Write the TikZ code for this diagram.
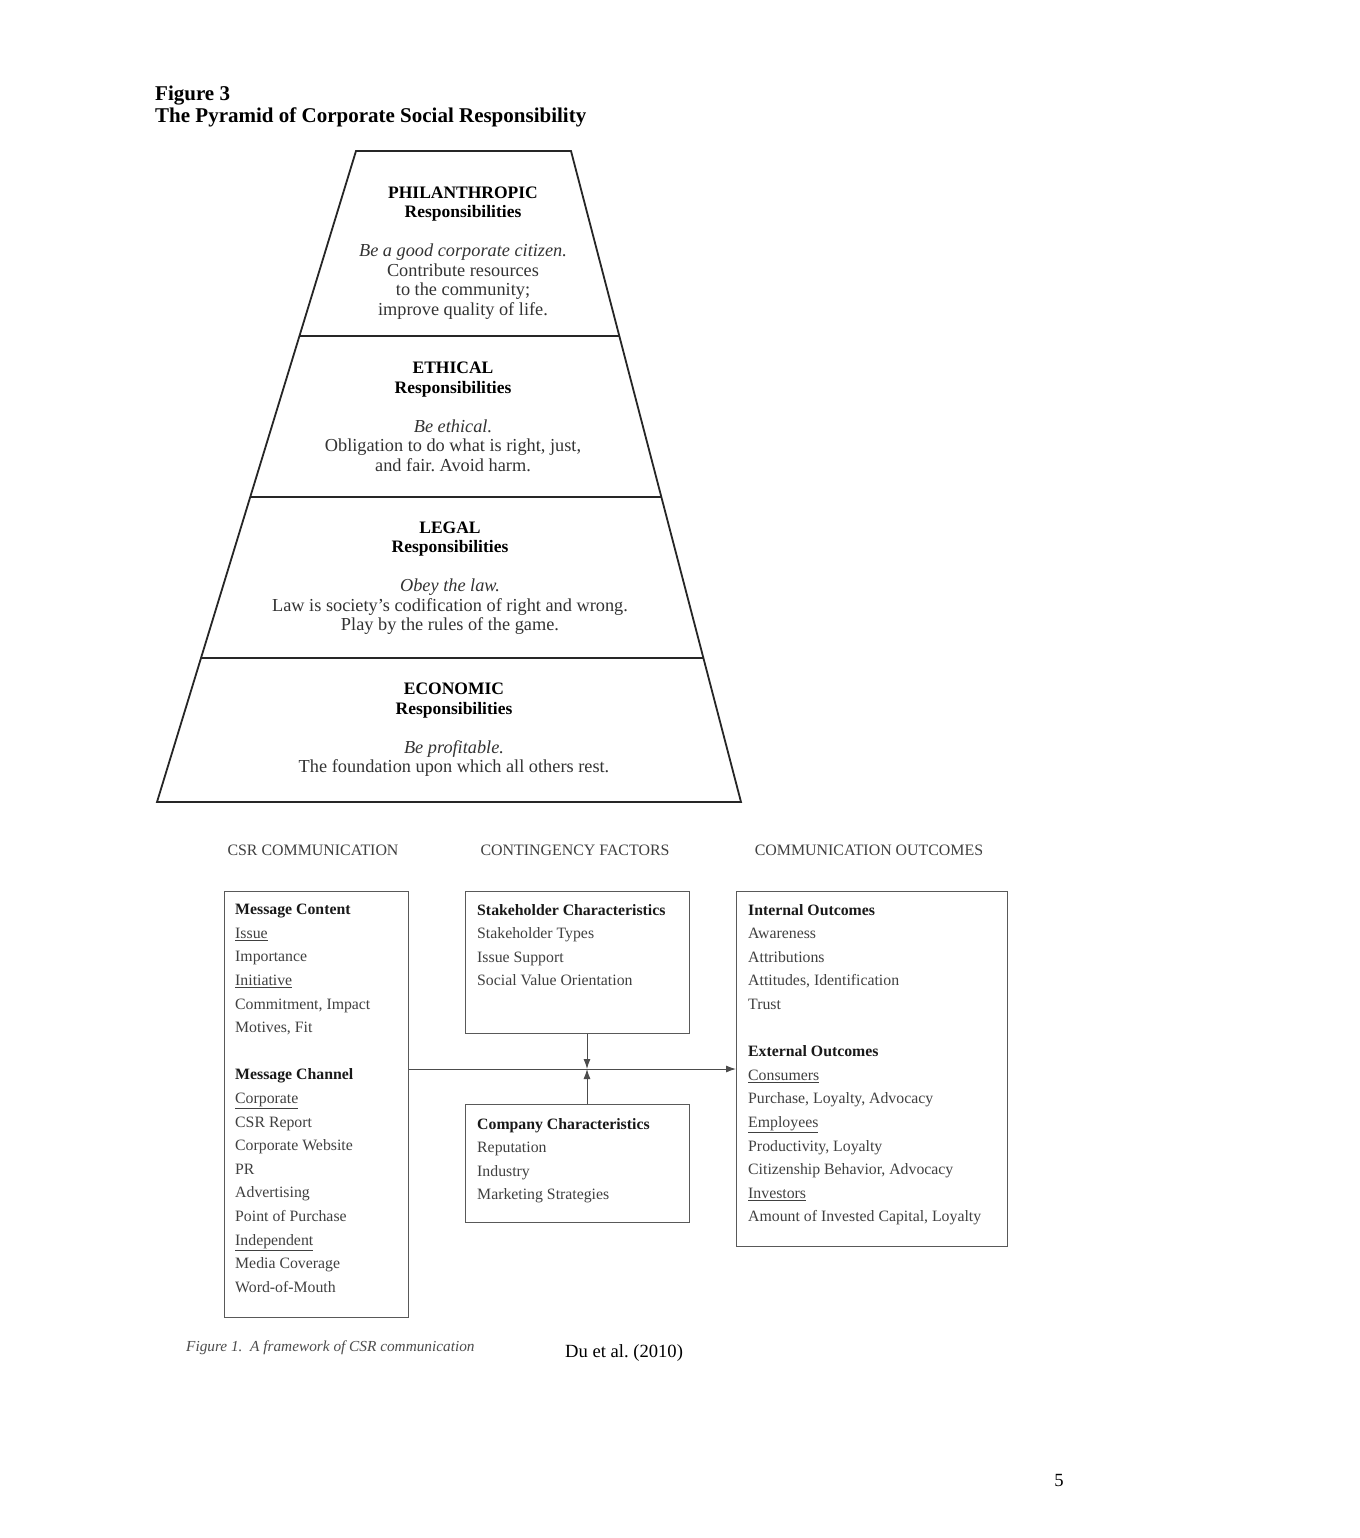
\documentclass[tikz,border=0pt]{standalone}
\usepackage{fontspec}
\setmainfont{Liberation Serif}
\usetikzlibrary{
    arrows.meta,
    calc,
    positioning
}
\frenchspacing
\newcommand{\tierhead}[1]{{\fontsize{17.5}{19.5}\selectfont\bfseries\color{black}#1}}

\begin{document}
\begin{tikzpicture}[x=1pt, y=-1pt,
    tierline/.style={line width=1.8pt, black!85},
    tier/.style={align=center, inner sep=0pt, font=\fontsize{18.3}{19.5}\selectfont, text=black!80},
    box/.style={draw=black!65, line width=1.1pt, anchor=north west, inner sep=0pt},
    list/.style={anchor=north west, align=left, inner sep=0pt, font=\fontsize{15.8}{23.6}\selectfont, text=black!75},
    head/.style={font=\fontsize{15.9}{17}\selectfont, text=black!75},
    flow/.style={draw=black!70, line width=1pt, -{Latex[length=10pt,width=7pt]}}
]
    \fill[white] (0,0) rectangle (1359,1538);
    \useasboundingbox (0,0) rectangle (1359,1538);

    % figure 3
    \node[anchor=base west, inner sep=0pt, font=\fontsize{21}{22}\selectfont\bfseries] (fig) at (155,101) {Figure 3};
    \node[anchor=base west, inner sep=0pt, font=\fontsize{21}{22}\selectfont\bfseries] (figtitle) at (155,123) {The Pyramid of Corporate Social Responsibility};

    \coordinate (tl) at (356,151);
    \coordinate (tr) at (571,151);
    \coordinate (bl) at (157,802);
    \coordinate (br) at (741,802);
    \draw[tierline] (tl) -- (tr) -- (br) -- (bl) -- cycle;
    \foreach \f in {0.2842, 0.5315, 0.7788}
        \draw[tierline] ($(tl)!\f!(bl)$) -- ($(tr)!\f!(br)$);

    \node[tier] (phil) at (463,253) {\tierhead{PHILANTHROPIC}\\ \tierhead{Responsibilities}\\[19.5pt]
        \textit{Be a good corporate citizen.}\\ Contribute resources\\ to the community;\\ improve quality of life.};
    \node[tier] (ethic) at (453,417) {\tierhead{ETHICAL}\\ \tierhead{Responsibilities}\\[19.5pt]
        \textit{Be ethical.}\\ Obligation to do what is right, just,\\ and fair. Avoid harm.};
    \node[tier] (legal) at (450,578) {\tierhead{LEGAL}\\ \tierhead{Responsibilities}\\[19.5pt]
        \textit{Obey the law.}\\ Law is society's codification of right and wrong.\\ Play by the rules of the game.};
    \node[tier] (econ) at (454,730) {\tierhead{ECONOMIC}\\ \tierhead{Responsibilities}\\[19.5pt]
        \textit{Be profitable.}\\ The foundation upon which all others rest.};

    % figure 1
    \node[head] (hcsr) at (313,850) {CSR COMMUNICATION};
    \node[head] (hcont) at (575,850) {CONTINGENCY FACTORS};
    \node[head] (hout) at (869,850) {COMMUNICATION OUTCOMES};

    \node[box, minimum width=184pt, minimum height=426pt] (content) at (224,891) {};
    \node[box, minimum width=224pt, minimum height=142pt] (stake) at (465,891) {};
    \node[box, minimum width=224pt, minimum height=118pt] (company) at (465,1104) {};
    \node[box, minimum width=271pt, minimum height=355pt] (outcome) at (736,891) {};

    \node[list] (contentlist) at (235,904) {\textbf{\textcolor{black!90}{Message Content}}\\ \underline{Issue}\\ Importance\\ \underline{Initiative}\\
        Commitment, Impact\\ Motives, Fit\\[23.6pt] \textbf{\textcolor{black!90}{Message Channel}}\\ \underline{Corporate}\\ CSR Report\\
        Corporate Website\\ PR\\ Advertising\\ Point of Purchase\\ \underline{Independent}\\ Media Coverage\\ Word-of-Mouth};
    \node[list] (stakelist) at (477,904) {\textbf{\textcolor{black!90}{Stakeholder Characteristics}}\\ Stakeholder Types\\ Issue Support\\ Social Value Orientation};
    \node[list] (companylist) at (477,1118) {\textbf{\textcolor{black!90}{Company Characteristics}}\\ Reputation\\ Industry\\ Marketing Strategies};
    \node[list] (outcomelist) at (748,904) {\textbf{\textcolor{black!90}{Internal Outcomes}}\\ Awareness\\ Attributions\\ Attitudes, Identification\\ Trust\\[23.6pt]
        \textbf{\textcolor{black!90}{External Outcomes}}\\ \underline{Consumers}\\ Purchase, Loyalty, Advocacy\\ \underline{Employees}\\ Productivity, Loyalty\\
        Citizenship Behavior, Advocacy\\ \underline{Investors}\\ Amount of Invested Capital, Loyalty};

    \coordinate (hub) at (587,1069);
    \draw[flow] (content.east |- hub) -- (hub -| outcome.west);
    \draw[flow] (stake.south -| hub) -- (hub);
    \draw[flow] (company.north -| hub) -- (hub);

    \node[anchor=base west, inner sep=0pt, font=\fontsize{15.3}{16}\selectfont\itshape, text=black!70] (caption) at (186,1351) {Figure 1.\ \ A framework of CSR communication};
    \node[anchor=base west, inner sep=0pt, font=\fontsize{18.6}{20}\selectfont] (source) at (565,1357) {Du et al. (2010)};

    \node[font=\fontsize{18.6}{20}\selectfont] (page) at (1059,1480) {5};
\end{tikzpicture}
\end{document}
